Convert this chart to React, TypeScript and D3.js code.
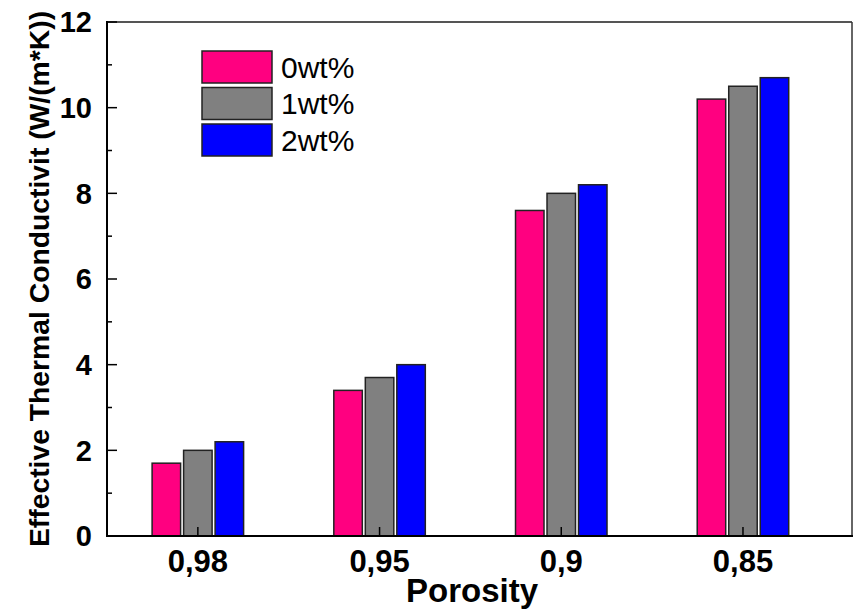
import React from "react";
import * as d3 from "d3";

const categories = ["0,98", "0,95", "0,9", "0,85"];
const seriesNames = ["0wt%", "1wt%", "2wt%"];
const values0 = [1.7, 3.4, 7.6, 10.2];
const values1 = [2.0, 3.7, 8.0, 10.5];
const values2 = [2.2, 4.0, 8.2, 10.7];
const seriesValues = [values0, values1, values2];
const colors = ["#FF0080", "#808080", "#0000FF"];
const majorTicks = [0, 2, 4, 6, 8, 10, 12];
const minorTicks = [1, 3, 5, 7, 9, 11];

const W = 854;
const H = 609;
const left = 107;
const right = 852;
const top = 22;
const bottom = 536;

export default function App() {
  const x = d3.scaleLinear().domain([0.5, 4.6]).range([left, right]);
  const y = d3.scaleLinear().domain([0, 12]).range([bottom, top]);
  const barW = 28.5;
  const step = 31.5;
  const font = "Arial, 'Liberation Sans', Helvetica, sans-serif";

  return (
    <div style={{ position: "absolute", left: 0, top: 0 }}>
      <svg width={W} height={H} style={{ display: "block", background: "#fff" }}>
        {categories.map((c, i) =>
          seriesValues.map((vals, s) => {
            const cx = x(i + 1) + (s - 1) * step;
            return (
              <rect
                key={c + s}
                x={cx - barW / 2}
                y={y(vals[i])}
                width={barW}
                height={y(0) - y(vals[i])}
                fill={colors[s]}
                stroke="#222"
                strokeWidth={1.5}
              />
            );
          })
        )}
        <line x1={left} x2={right} y1={top} y2={top} stroke="#555" strokeWidth={2} />
        <line x1={right} x2={right} y1={top} y2={bottom} stroke="#333" strokeWidth={1.5} />
        <line x1={left} x2={left} y1={top - 1} y2={bottom + 1} stroke="#000" strokeWidth={2} />
        <line x1={left - 1} x2={right + 1} y1={bottom} y2={bottom} stroke="#000" strokeWidth={2} />
        {majorTicks.map((t) => (
          <g key={"mt" + t}>
            <line x1={left} x2={left + 10} y1={y(t)} y2={y(t)} stroke="#000" strokeWidth={1.5} />
            <text
              x={92}
              y={y(t)}
              dy="0.36em"
              textAnchor="end"
              fontFamily={font}
              fontWeight="bold"
              fontSize={29}
              fill="#000"
            >
              {t}
            </text>
          </g>
        ))}
        {minorTicks.map((t) => (
          <line key={"mn" + t} x1={left} x2={left + 5} y1={y(t)} y2={y(t)} stroke="#000" strokeWidth={1.5} />
        ))}
        {categories.map((c, i) => (
          <g key={"xt" + c}>
            <line x1={x(i + 1)} x2={x(i + 1)} y1={bottom} y2={bottom - 9} stroke="#000" strokeWidth={1.5} />
            <text
              x={x(i + 1)}
              y={572}
              textAnchor="middle"
              fontFamily={font}
              fontWeight="bold"
              fontSize={31}
              fill="#000"
            >
              {c}
            </text>
          </g>
        ))}
        <text
          x={472}
          y={602}
          textAnchor="middle"
          fontFamily={font}
          fontWeight="bold"
          fontSize={33}
          fill="#000"
        >
          Porosity
        </text>
        <text
          transform={`translate(49, ${279}) rotate(-90)`}
          textAnchor="middle"
          fontFamily={font}
          fontWeight="bold"
          fontSize={28.3}
          fill="#000"
        >
          Effective Thermal Conductivit (W/(m*K))
        </text>
        {seriesNames.map((n, s) => (
          <g key={"lg" + n}>
            <rect
              x={202}
              y={51 + s * 36.5}
              width={70}
              height={32}
              fill={colors[s]}
              stroke="#222"
              strokeWidth={1.5}
            />
            <text
              x={281}
              y={51 + s * 36.5 + 16}
              dy="0.36em"
              fontFamily={font}
              fontSize={30}
              fill="#000"
            >
              {n}
            </text>
          </g>
        ))}
      </svg>
    </div>
  );
}
